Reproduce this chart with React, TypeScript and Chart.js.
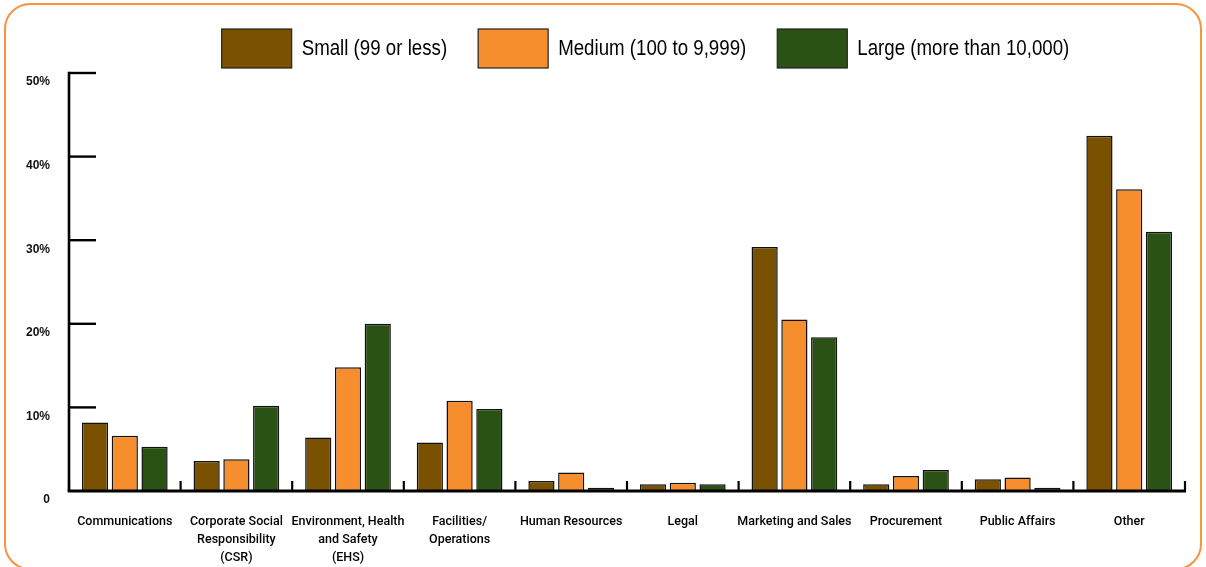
import React, { useEffect, useRef } from 'react';
import { Chart, registerables } from 'chart.js';

Chart.register(...registerables);

const categories: string[][] = [
  ['Communications'],
  ['Corporate Social', 'Responsibility', '(CSR)'],
  ['Environment, Health', 'and Safety', '(EHS)'],
  ['Facilities/', 'Operations'],
  ['Human Resources'],
  ['Legal'],
  ['Marketing and Sales'],
  ['Procurement'],
  ['Public Affairs'],
  ['Other'],
];

const seriesNames = ['Small (99 or less)', 'Medium (100 to 9,999)', 'Large (more than 10,000)'];
const smallValues = [8.2, 3.6, 6.4, 5.8, 1.2, 0.8, 29.2, 0.8, 1.4, 42.5];
const mediumValues = [6.6, 3.8, 14.8, 10.8, 2.2, 1.0, 20.5, 1.8, 1.6, 36.1];
const largeValues = [5.3, 10.2, 20.0, 9.8, 0.4, 0.8, 18.4, 2.5, 0.4, 31.0];
const seriesColors = ['#7A5100', '#F68E2E', '#2A5214'];

const yTickValues = [0, 10, 20, 30, 40, 50];
const yTickLabels = ['0', '10%', '20%', '30%', '40%', '50%'];

const SANS = "'Liberation Sans', Arial, sans-serif";
const LABEL_FONT = "Roboto, 'Liberation Sans', sans-serif";

const axesPlugin = {
  id: 'customAxes',
  afterDatasetsDraw(chart: any) {
    const { ctx, chartArea, scales } = chart;
    const xs = scales.x;
    const ys = scales.y;
    const y0 = ys.getPixelForValue(0);
    const yTop = ys.getPixelForValue(yTickValues[yTickValues.length - 1]);
    ctx.save();
    ctx.strokeStyle = '#000';
    ctx.lineCap = 'butt';
    // y axis line
    ctx.lineWidth = 2.6;
    ctx.beginPath();
    ctx.moveTo(chartArea.left, yTop - 1.2);
    ctx.lineTo(chartArea.left, y0);
    ctx.stroke();
    // inward tick marks
    ctx.lineWidth = 2.4;
    yTickValues.forEach((v) => {
      if (v === 0) return;
      const py = ys.getPixelForValue(v);
      ctx.beginPath();
      ctx.moveTo(chartArea.left, py);
      ctx.lineTo(chartArea.left + 27, py);
      ctx.stroke();
    });
    // x axis line
    ctx.lineWidth = 3;
    ctx.beginPath();
    ctx.moveTo(chartArea.left - 1.3, y0);
    ctx.lineTo(chartArea.right + 1, y0);
    ctx.stroke();
    // category boundary ticks
    ctx.lineWidth = 2.2;
    for (let i = 0; i <= categories.length; i++) {
      const px = xs.getPixelForValue(i - 0.5);
      ctx.beginPath();
      ctx.moveTo(px, y0);
      ctx.lineTo(px, y0 - 10);
      ctx.stroke();
    }
    ctx.restore();
  },
};

const legendPlugin = {
  id: 'boxLegend',
  afterDraw(chart: any) {
    const ctx = chart.ctx;
    ctx.save();
    const squeeze = 0.85;
    ctx.font = `22px ${SANS}`;
    const boxW = 70;
    const boxH = 39;
    const gap = 10;
    const itemGap = 31;
    const top = 29;
    const centerX = 645.5;
    const items = chart.data.datasets.map((d: any) => ({
      label: d.label as string,
      color: d.backgroundColor as string,
      w: ctx.measureText(d.label).width * squeeze,
    }));
    const total =
      items.reduce((s: number, it: any) => s + boxW + gap + it.w, 0) + itemGap * (items.length - 1);
    let x = centerX - total / 2;
    items.forEach((it: any) => {
      ctx.fillStyle = it.color;
      ctx.fillRect(x, top, boxW, boxH);
      ctx.strokeStyle = '#222';
      ctx.lineWidth = 1.2;
      ctx.strokeRect(x, top, boxW, boxH);
      ctx.fillStyle = '#000';
      ctx.textBaseline = 'middle';
      ctx.textAlign = 'left';
      ctx.save();
      ctx.translate(x + boxW + gap, top + boxH / 2);
      ctx.scale(squeeze, 1);
      ctx.fillText(it.label, 0, 0);
      ctx.restore();
      x += boxW + gap + it.w + itemGap;
    });
    ctx.restore();
  },
};

export default function App() {
  const canvasRef = useRef<HTMLCanvasElement | null>(null);

  useEffect(() => {
    if (!canvasRef.current) return;
    const chart = new Chart(canvasRef.current, {
      type: 'bar',
      data: {
        labels: categories,
        datasets: [
          { label: seriesNames[0], data: smallValues, backgroundColor: seriesColors[0] },
          { label: seriesNames[1], data: mediumValues, backgroundColor: seriesColors[1] },
          { label: seriesNames[2], data: largeValues, backgroundColor: seriesColors[2] },
        ].map((d) => ({
          ...d,
          borderColor: '#111',
          borderWidth: 1.5,
          categoryPercentage: 0.8,
          barPercentage: 0.88,
        })),
      },
      options: {
        responsive: true,
        maintainAspectRatio: false,
        animation: false,
        events: [],
        layout: { padding: { top: 73, right: 21, left: 0, bottom: 0 } },
        plugins: {
          legend: { display: false },
          tooltip: { enabled: false },
        },
        scales: {
          x: {
            grid: { display: false, drawTicks: false },
            border: { display: false },
            ticks: {
              color: '#000',
              font: { family: LABEL_FONT, size: 12.5, weight: '500', lineHeight: 1.44 },
              padding: 22,
              maxRotation: 0,
              minRotation: 0,
              autoSkip: false,
            },
            afterFit: (s: any) => {
              s.height = 76;
            },
          },
          y: {
            min: 0,
            max: 50,
            afterBuildTicks: (s: any) => {
              s.ticks = yTickValues.map((v) => ({ value: v }));
            },
            grid: { display: false, drawTicks: false },
            border: { display: false },
            ticks: {
              callback: (v: any) => yTickLabels[yTickValues.indexOf(Number(v))],
              font: { family: SANS, size: 12, weight: 'bold' },
              color: '#111',
              padding: 19,
              labelOffset: 9,
            },
            afterFit: (s: any) => {
              s.width = 69;
            },
          },
        },
      },
      plugins: [axesPlugin, legendPlugin],
    } as any);
    return () => chart.destroy();
  }, []);

  return (
    <div
      style={{
        position: 'fixed',
        left: 0,
        top: 0,
        width: 1206,
        height: 567,
        overflow: 'hidden',
        background: '#fff',
      }}
    >
      <div
        style={{
          position: 'absolute',
          left: 4,
          top: 3,
          width: 1198,
          height: 567,
          boxSizing: 'border-box',
          border: '2.5px solid #F7943C',
          borderRadius: 26,
        }}
      />
      <div style={{ position: 'absolute', left: 0, top: 0, width: 1206, height: 567 }}>
        <canvas ref={canvasRef} />
      </div>
    </div>
  );
}
